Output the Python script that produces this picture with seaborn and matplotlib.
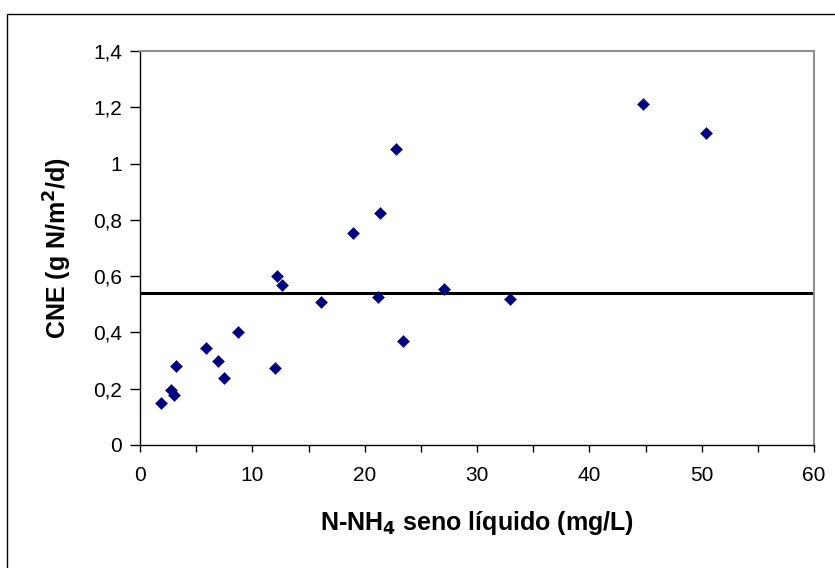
import numpy as np
import pandas as pd
import seaborn as sns
import matplotlib.pyplot as plt
from matplotlib.ticker import FuncFormatter, MultipleLocator
from matplotlib.patches import Rectangle

# N-NH4 in liquid (mg/L) vs CNE (g N/m2/d)
nh4 = [1.9, 2.8, 3.0, 3.2, 5.9, 6.9, 7.5, 8.7, 12.0, 12.2, 12.6, 16.1,
       19.0, 21.2, 21.4, 22.8, 23.4, 27.1, 32.9, 44.8, 50.4]
cne = [0.148, 0.195, 0.178, 0.28, 0.345, 0.298, 0.237, 0.40, 0.275, 0.60, 0.57, 0.508,
       0.753, 0.525, 0.825, 1.05, 0.368, 0.553, 0.52, 1.213, 1.11]
cne_ref = 0.54  # horizontal reference line

df = pd.DataFrame({"nh4": nh4, "cne": cne})

sns.set_style("white")
plt.rcParams["font.family"] = ["Liberation Sans", "DejaVu Sans"]
plt.rcParams["mathtext.default"] = "bf"
for key in ["text.color", "axes.labelcolor", "xtick.color", "ytick.color"]:
    plt.rcParams[key] = "black"

fig = plt.figure(figsize=(8.35, 5.68), dpi=100)
ax = fig.add_axes([140 / 835, 1 - 445 / 568, 674 / 835, 394 / 568])

sns.scatterplot(data=df, x="nh4", y="cne", marker="D", s=38,
                color="#000080", edgecolor="#000080", linewidth=0.3, ax=ax, zorder=3)
ax.axhline(cne_ref, color="black", linewidth=2.2, zorder=2)

ax.set_xlim(0, 60)
ax.set_ylim(0, 1.4)
ax.xaxis.set_major_locator(MultipleLocator(10))
ax.xaxis.set_minor_locator(MultipleLocator(5))
ax.yaxis.set_major_locator(MultipleLocator(0.2))
comma = FuncFormatter(lambda v, p: f"{v:.1f}".rstrip("0").rstrip(".").replace(".", ","))
ax.yaxis.set_major_formatter(comma)
ax.xaxis.set_major_formatter(FuncFormatter(lambda v, p: f"{v:.0f}"))

ax.tick_params(axis="both", which="both", direction="out", width=1,
               color="black", labelcolor="black", labelsize=15, bottom=True, left=True)
ax.tick_params(axis="x", which="both", length=5, pad=10)
ax.tick_params(axis="y", length=7, pad=6)

for side in ["top", "right"]:
    ax.spines[side].set_color("#909090")
    ax.spines[side].set_linewidth(1.5)
for side in ["left", "bottom"]:
    ax.spines[side].set_color("black")
    ax.spines[side].set_linewidth(1)

ax.set_xlabel("N-NH$_4$ seno líquido (mg/L)", fontsize=18, fontweight="bold", color="black")
ax.set_ylabel("CNE (g N/m$^2$/d)", fontsize=18, fontweight="bold", color="black")
ax.xaxis.set_label_coords(0.5, -(523 - 445) / 394, transform=ax.transAxes)
ax.yaxis.set_label_coords(-(140 - 58) / 674, 0.5, transform=ax.transAxes)
ax.xaxis.label.set_va("center")
ax.yaxis.label.set_va("center")

# outer chart border
fig.patches.append(Rectangle((7 / 835, -0.1), 1.2, 1 - 14 / 568 + 0.1,
                             transform=fig.transFigure, fill=False,
                             edgecolor="black", linewidth=1, zorder=0))

fig.savefig("out.png", dpi=100)
